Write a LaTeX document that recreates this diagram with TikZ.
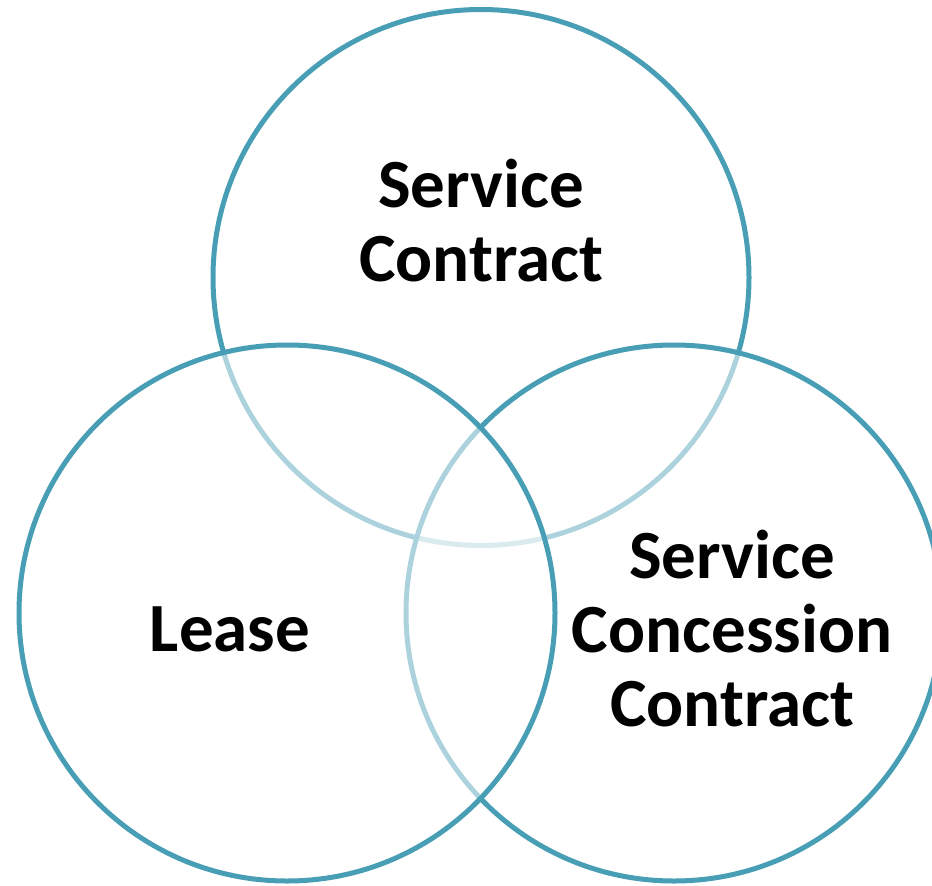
\documentclass[tikz,border=0pt]{standalone}
\usepackage{fontspec}
\newfontfamily\carlito{Carlito}
\definecolor{ring}{RGB}{72,158,180}
\begin{document}
\begin{tikzpicture}[x=1pt,y=-1pt,
  ringnode/.style={circle, draw=ring, line width=5pt, fill=white, fill opacity=0.55, text opacity=1, inner sep=0pt, minimum size=536pt},
  label/.style={font=\carlito\bfseries\fontsize{69}{74}\selectfont, align=center, inner sep=0pt, text=black}]
\useasboundingbox (0,0) rectangle (932,886);
\clip (0,0) rectangle (932,886);
\node[ringnode] (top) at (481,277.5) {};
\node[ringnode] (right) at (674,613) {};
\node[ringnode] (left) at (287,613) {};
\node[label] (tl) at (481,221) {Service\\Contract};
\node[label] (ll) at (230,629) {Lease};
\node[label] (rl) at (732,628.5) {Service\\Concession\\Contract};
\end{tikzpicture}
\end{document}
